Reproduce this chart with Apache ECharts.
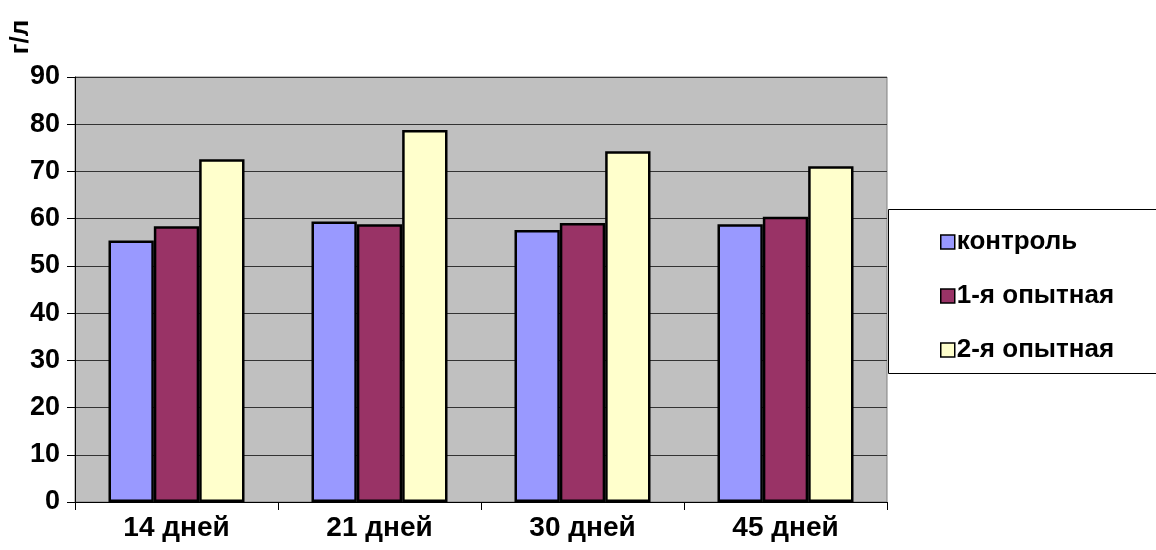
<!DOCTYPE html>
<html>
<head>
<meta charset="utf-8">
<script src="https://cdn.jsdelivr.net/npm/echarts@6/dist/echarts.min.js"></script>
<style>html,body{margin:0;padding:0;background:#fff;}#c{width:1156px;height:550px;}</style>
</head>
<body>
<div id="c"></div>
<script>
const categories = ['14 дней', '21 дней', '30 дней', '45 дней'];
const seriesNames = ['контроль', '1-я опытная', '2-я опытная'];
const kontrol = [55.4, 59.4, 57.6, 58.8];
const opyt1 = [58.4, 58.8, 59.1, 60.4];
const opyt2 = [72.6, 78.8, 74.3, 71.1];
const yTicks = [0, 10, 20, 30, 40, 50, 60, 70, 80, 90];
const yTitle = 'г/л';

const colors = ['#9999ff', '#993366', '#ffffcc'];
const font = 'Arial, "Liberation Sans", sans-serif';
const chart = echarts.init(document.getElementById('c'));
const values = [kontrol, opyt1, opyt2];
chart.setOption({
  animation: false,
  backgroundColor: '#ffffff',
  grid: { left: 75, right: 269, top: 77, bottom: 48, show: true, backgroundColor: '#c0c0c0', borderColor: '#808080', borderWidth: 1, containLabel: false },
  graphic: [
    { type: 'rect', shape: { x: 888.5, y: 209.5, width: 300, height: 164 }, style: { fill: '#fff', stroke: '#000', lineWidth: 1 }, z: 0 },
    { type: 'text', x: 21, y: 37, rotation: Math.PI / 2, style: { text: yTitle, font: 'bold 26px ' + font, fill: '#000', textAlign: 'center', textVerticalAlign: 'middle' } }
  ],
  legend: {
    orient: 'vertical', left: 935, top: 223,
    itemWidth: 14, itemHeight: 14, itemGap: 26,
    icon: 'rect',
    textStyle: { fontFamily: font, fontWeight: 'bold', fontSize: 26, color: '#000', lineHeight: 28, padding: [0, 0, 0, -3] },
    itemStyle: { borderColor: '#000', borderWidth: 1.5 },
    data: seriesNames
  },
  xAxis: {
    type: 'category', data: categories,
    axisLine: { show: true, lineStyle: { color: '#000', width: 1 } },
    axisTick: { show: true, alignWithLabel: false, length: 8, lineStyle: { color: '#000' } },
    axisLabel: { fontFamily: font, fontWeight: 'bold', fontSize: 28, color: '#000', margin: 12 },
    splitLine: { show: false }
  },
  yAxis: {
    type: 'value', min: 0, max: 90, interval: 10,
    axisLine: { show: true, lineStyle: { color: '#000', width: 1 } },
    axisTick: { show: true, length: 8, lineStyle: { color: '#000' } },
    axisLabel: { fontFamily: font, fontWeight: 'bold', fontSize: 27, color: '#000', margin: 15,
      formatter: v => yTicks.includes(v) ? String(v) : '' },
    splitLine: { show: true, lineStyle: { color: '#333', width: 1 } }
  },
  series: seriesNames.map((n, i) => ({
    name: n, type: 'bar', data: values[i],
    barGap: '0%', barCategoryGap: '33%',
    itemStyle: { color: colors[i], borderColor: '#000', borderWidth: 2.5 }
  }))
});
</script>
</body>
</html>
